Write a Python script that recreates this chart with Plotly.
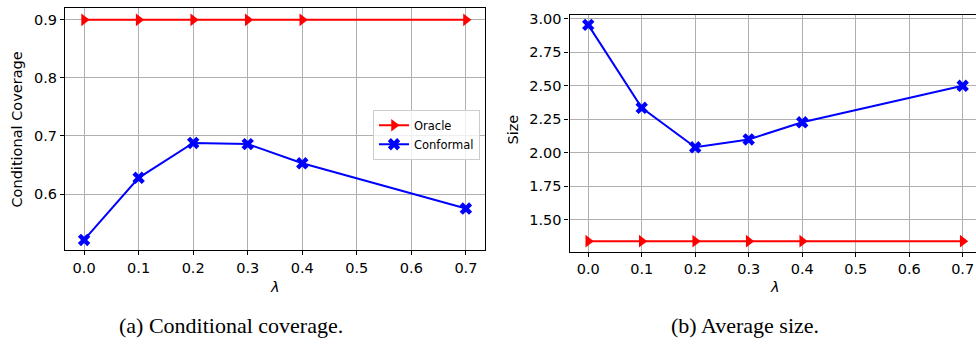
import plotly.graph_objects as go

# lambda values swept in both panels
lambdas = [0.0, 0.1, 0.2, 0.3, 0.4, 0.7]

# (a) conditional coverage
oracle_coverage = [0.9, 0.9, 0.9, 0.9, 0.9, 0.9]
conformal_coverage = [0.521, 0.628, 0.688, 0.686, 0.653, 0.575]

# (b) average prediction-set size
oracle_size = [1.34, 1.34, 1.34, 1.34, 1.34, 1.34]
conformal_size = [2.955, 2.336, 2.041, 2.10, 2.228, 2.50]

x_ticks = [0.0, 0.1, 0.2, 0.3, 0.4, 0.5, 0.6, 0.7]

W, H = 976, 345
RED = "#ff0000"
BLUE = "#0000ff"
GRID = "#b0b0b0"
FONT = "DejaVu Sans"
FS = 14.5

fig = go.Figure()

def add_pair(oracle, conformal, xa, ya, show_legend):
    fig.add_trace(go.Scatter(
        x=lambdas, y=oracle, name="Oracle", mode="lines+markers",
        line=dict(color=RED, width=2),
        marker=dict(symbol="triangle-right", size=11, color=RED),
        xaxis=xa, yaxis=ya, showlegend=show_legend))
    fig.add_trace(go.Scatter(
        x=lambdas, y=conformal, name="Conformal", mode="lines+markers",
        line=dict(color=BLUE, width=2),
        marker=dict(symbol="x", size=11, color=BLUE),
        xaxis=xa, yaxis=ya, showlegend=show_legend))

add_pair(oracle_coverage, conformal_coverage, "x", "y", True)
add_pair(oracle_size, conformal_size, "x2", "y2", False)

axis_common = dict(
    showgrid=True, gridcolor=GRID, gridwidth=1,
    showline=True, linecolor="black", linewidth=1.2,
    ticks="outside", ticklen=4, tickcolor="black", tickwidth=1,
    tickfont=dict(family=FONT, size=FS, color="black"),
    zeroline=False,
)

fig.update_layout(
    width=W, height=H,
    margin=dict(l=0, r=0, t=0, b=0),
    paper_bgcolor="white", plot_bgcolor="white",
    xaxis=dict(axis_common, domain=[65 / W, 485 / W], range=[-0.035, 0.735],
               tickvals=x_ticks, tickformat=".1f", mirror=True, anchor="y"),
    yaxis=dict(axis_common, domain=[1 - 249 / H, 1 - 4.5 / H], range=[0.5035, 0.9195],
               tickvals=[0.6, 0.7, 0.8, 0.9], tickformat=".1f", mirror=True, anchor="x"),
    xaxis2=dict(axis_common, domain=[569.5 / W, 1.0], range=[-0.035, 0.7249],
                tickvals=x_ticks, tickformat=".1f", mirror=True, anchor="y2"),
    yaxis2=dict(axis_common, domain=[1 - 250.7 / H, 1 - 10.7 / H], range=[1.261, 3.032],
                tickvals=[1.5, 1.75, 2.0, 2.25, 2.5, 2.75, 3.0], tickformat=".2f",
                mirror=False, anchor="x2"),
    legend=dict(
        x=373 / W, y=1 - 107 / H, xanchor="left", yanchor="top",
        bgcolor="rgba(255,255,255,0.8)", bordercolor="#cccccc", borderwidth=1,
        font=dict(family=FONT, size=11.5, color="black"),
        itemwidth=30, tracegroupgap=0,
    ),
)

annotations = [
    # y-axis titles
    dict(text="Conditional Coverage", x=17 / W, y=1 - 127 / H, textangle=-90,
         font=dict(family=FONT, size=FS, color="black")),
    dict(text="Size", x=513 / W, y=1 - 127 / H, textangle=-90,
         font=dict(family=FONT, size=FS, color="black")),
    # x-axis titles
    dict(text="<i>λ</i>", x=275 / W, y=1 - 286 / H,
         font=dict(family=FONT, size=FS, color="black")),
    dict(text="<i>λ</i>", x=775 / W, y=1 - 286 / H,
         font=dict(family=FONT, size=FS, color="black")),
    # sub-figure captions
    dict(text="(a) Conditional coverage.", x=231 / W, y=1 - 325 / H,
         font=dict(family="Liberation Serif", size=22, color="black")),
    dict(text="(b) Average size.", x=745 / W, y=1 - 325 / H,
         font=dict(family="Liberation Serif", size=22, color="black")),
]
for a in annotations:
    a.update(xref="paper", yref="paper", showarrow=False, xanchor="center", yanchor="middle")
fig.update_layout(annotations=annotations)

fig.write_html("out.html")
